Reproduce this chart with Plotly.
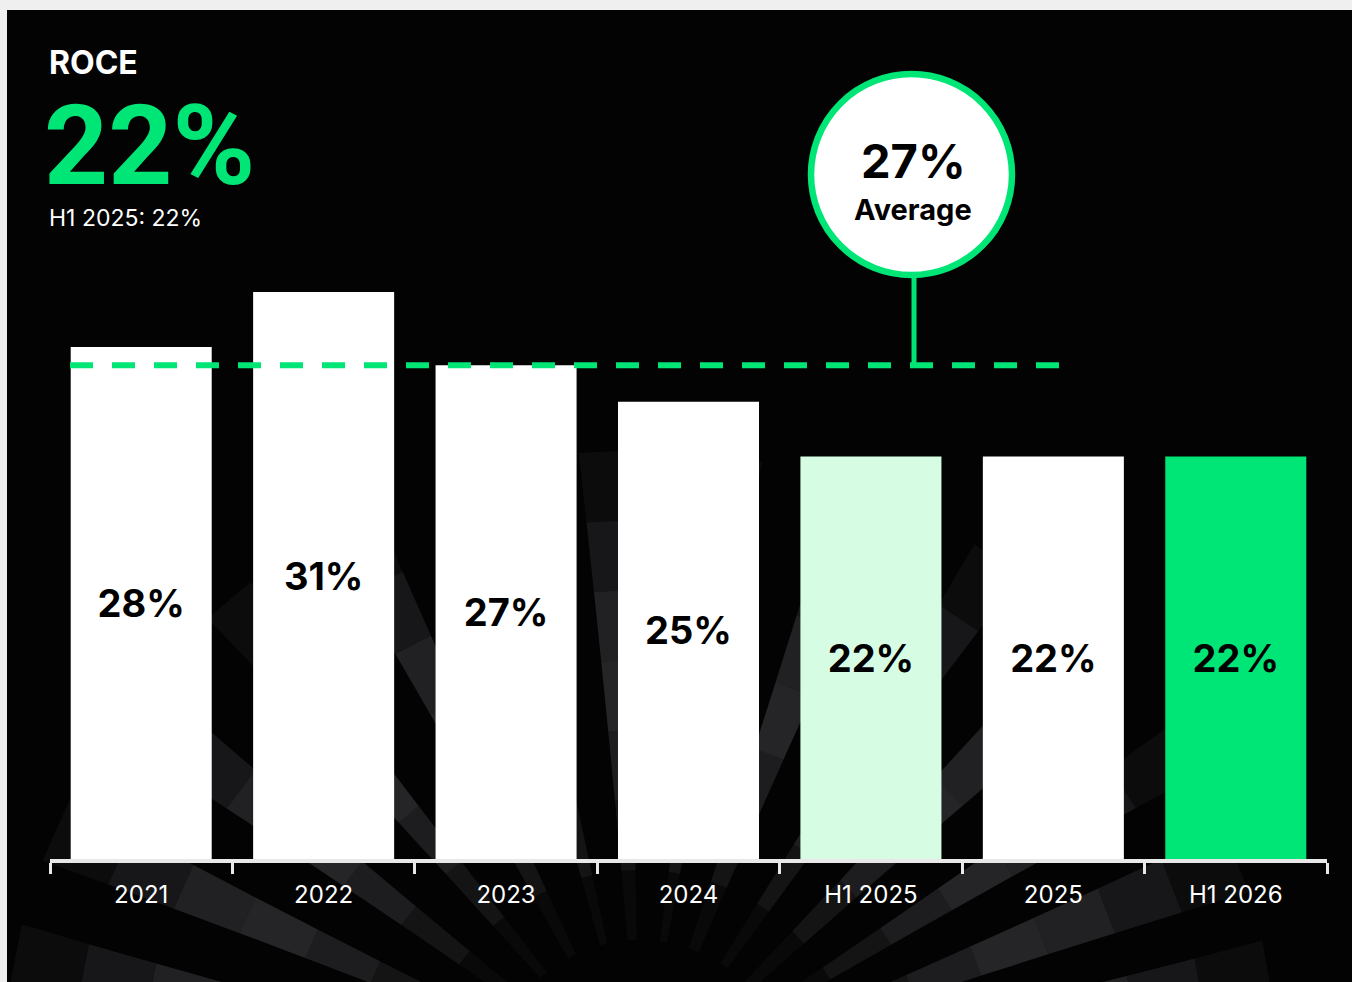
import math
import plotly.graph_objects as go

# ---- data -------------------------------------------------------------
CATEGORIES = ["2021", "2022", "2023", "2024", "H1 2025", "2025", "H1 2026"]
ROCE = [28, 31, 27, 25, 22, 22, 22]
BAR_COLORS = ["#FFFFFF", "#FFFFFF", "#FFFFFF", "#FFFFFF", "#D6FDE4", "#FFFFFF", "#00E676"]
AVERAGE = 27
CURRENT_PERIOD = "H1 2026"
PRIOR_PERIOD = "H1 2025"
TITLE = "ROCE"

# ---- page geometry ----------------------------------------------------
W, H = 1352, 982
L, R, T, B = 50, 25, 127, 123
PLOT_W = W - L - R
PLOT_H = H - T - B
PX_PER_UNIT = 18.29
Y_MAX = PLOT_H / PX_PER_UNIT
SLOT = PLOT_W / len(CATEGORIES)

GREEN = "#00E676"
BLACK = "#030303"
FONT = "Inter"


def px(x):
    """page pixel x -> paper x"""
    return (x - L) / PLOT_W


def py(y):
    """page pixel y -> paper y"""
    return (H - B - y) / PLOT_H


def ydata(y):
    """page pixel y -> y-axis value"""
    return (H - B - y) / PLOT_H * Y_MAX


def xcat(x):
    """page pixel x -> category-axis position"""
    return (x - L) / SLOT - 0.5


current = ROCE[CATEGORIES.index(CURRENT_PERIOD)]
prior = ROCE[CATEGORIES.index(PRIOR_PERIOD)]

fig = go.Figure(
    go.Bar(
        x=CATEGORIES,
        y=ROCE,
        marker=dict(color=BAR_COLORS, line=dict(width=0)),
        text=[f"{v}%" for v in ROCE],
        textposition="inside",
        insidetextanchor="middle",
        textangle=0,
        constraintext="none",
        textfont=dict(family=FONT, size=38, color="#000000", weight="bold"),
        hoverinfo="skip",
        cliponaxis=False,
    )
)

shapes = []

# dark panel behind everything
shapes.append(dict(type="rect", xref="paper", yref="paper",
                   x0=px(7), x1=px(W + 5), y0=py(10), y1=py(H + 5),
                   fillcolor=BLACK, line=dict(width=0), layer="below"))

# soft light beams fanning out from below the axis
cx, cy = 640, 1090
beams = [(-79, 8), (-66, 6), (-53, 6), (-40, 5), (-27, 5), (-14, 4), (-3, 5),
         (9, 4), (21, 6), (34, 5), (46, 6), (58, 5), (69, 6), (80, 7)]
bands = [(150, 220, 0.06), (220, 290, 0.14), (290, 360, 0.22), (360, 430, 0.28),
         (430, 500, 0.25), (500, 570, 0.17), (570, 640, 0.08)]


def polar(r, a):
    t = math.radians(a)
    return cx + r * math.sin(t), cy - r * math.cos(t)


for ang, wid in beams:
    for r0, r1, op in bands:
        f0 = wid / 2 * (0.6 + 0.4 * r0 / 640)
        f1 = wid / 2 * (0.6 + 0.4 * r1 / 640)
        pts = [polar(r0, ang - f0), polar(r1, ang - f1), polar(r1, ang + f1), polar(r0, ang + f0)]
        path = "M " + " L ".join(f"{px(a):.5f},{py(b):.5f}" for a, b in pts) + " Z"
        shapes.append(dict(type="path", xref="paper", yref="paper", path=path,
                           fillcolor=f"rgba(125,125,135,{op})", line=dict(width=0),
                           layer="below"))

# average line across the bars
shapes.append(dict(type="line", xref="x", yref="y",
                   x0=xcat(70), x1=xcat(1059), y0=AVERAGE, y1=AVERAGE,
                   line=dict(color=GREEN, width=6, dash="23px,19px"), layer="above"))

# callout stem and bubble
ccx, ccy, cr = 911.5, 174.5, 100.5
shapes.append(dict(type="line", xref="paper", yref="y",
                   x0=px(914), x1=px(914), y0=AVERAGE, y1=ydata(ccy + cr - 4),
                   line=dict(color=GREEN, width=5), layer="above"))
shapes.append(dict(type="circle", xref="paper", yref="paper",
                   x0=px(ccx - cr), x1=px(ccx + cr), y0=py(ccy + cr), y1=py(ccy - cr),
                   fillcolor="#FFFFFF", line=dict(color=GREEN, width=6.5), layer="above"))

annotations = [
    dict(text=TITLE, x=px(47), y=py(62), xanchor="left", yanchor="middle",
         font=dict(family=FONT, size=32, color="#FFFFFF", weight="bold")),
    dict(text=f"{current}%", x=px(42), y=py(145), xanchor="left", yanchor="middle",
         font=dict(family="Roboto", size=112, color=GREEN, weight="bold")),
    dict(text=f"{PRIOR_PERIOD}: {prior}%", x=px(47), y=py(218), xanchor="left", yanchor="middle",
         font=dict(family=FONT, size=23, color="#FFFFFF")),
    dict(text=f"{AVERAGE}%", x=px(913), y=py(160), xanchor="center", yanchor="middle",
         font=dict(family=FONT, size=47, color="#000000", weight="bold")),
    dict(text="Average", x=px(913), y=py(209), xanchor="center", yanchor="middle",
         font=dict(family=FONT, size=29, color="#000000", weight="bold")),
]
for a in annotations:
    a.update(xref="paper", yref="paper", showarrow=False)

fig.update_layout(
    width=W, height=H,
    margin=dict(l=L, r=R, t=T, b=B, pad=0),
    paper_bgcolor="#EFEFEF",
    plot_bgcolor="rgba(0,0,0,0)",
    bargap=0.227,
    showlegend=False,
    shapes=shapes,
    annotations=annotations,
    xaxis=dict(
        type="category",
        showgrid=False, zeroline=False,
        showline=True, linecolor="#E8E8E8", linewidth=4,
        ticks="outside", tickson="boundaries", ticklen=11, tickwidth=3, tickcolor="#E8E8E8",
        tickfont=dict(family=FONT, size=24, color="#FFFFFF"),
        ticklabelstandoff=11,
        fixedrange=True,
    ),
    yaxis=dict(visible=False, range=[0, Y_MAX], showgrid=False, zeroline=False, fixedrange=True),
)

fig.write_html("out.html", config={"displayModeBar": False})
